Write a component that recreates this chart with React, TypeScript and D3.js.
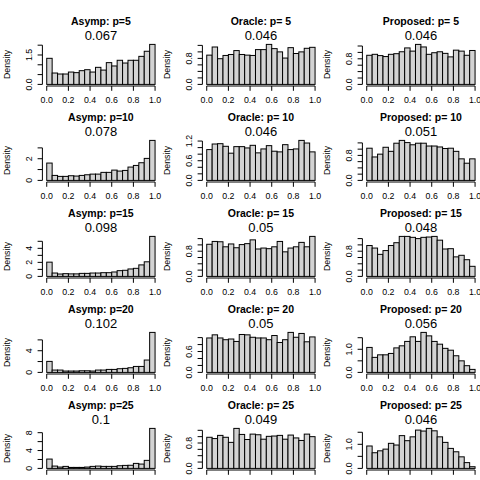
import React from "react";
import * as d3 from "d3";

// ---------- data ----------
const binEdges = [0, 0.05, 0.1, 0.15, 0.2, 0.25, 0.3, 0.35, 0.4, 0.45, 0.5, 0.55, 0.6, 0.65, 0.7, 0.75, 0.8, 0.85, 0.9, 0.95, 1];
const methods = ["Asymp", "Oracle", "Proposed"];
const dims = [5, 10, 15, 20, 25];

const asympDensity = [
  [1.33, 0.58, 0.53, 0.53, 0.63, 0.6, 0.7, 0.75, 0.63, 0.87, 0.73, 1.11, 0.94, 1.23, 1.09, 1.23, 1.23, 1.43, 1.69, 2.04],
  [1.6, 0.46, 0.37, 0.37, 0.43, 0.4, 0.46, 0.52, 0.58, 0.58, 0.74, 0.74, 0.95, 0.86, 0.92, 1.23, 1.38, 1.63, 2.03, 3.69],
  [2.03, 0.48, 0.34, 0.39, 0.36, 0.36, 0.43, 0.43, 0.48, 0.48, 0.53, 0.53, 0.63, 0.82, 0.87, 1.06, 1.15, 1.64, 2.08, 5.7],
  [2.03, 0.43, 0.43, 0.25, 0.25, 0.25, 0.3, 0.3, 0.25, 0.43, 0.43, 0.55, 0.55, 0.68, 0.74, 0.86, 1.1, 1.1, 2.28, 7.38],
  [2.09, 0.52, 0.3, 0.45, 0.22, 0.22, 0.22, 0.3, 0.45, 0.52, 0.45, 0.45, 0.45, 0.6, 0.67, 0.7, 1.12, 0.97, 1.8, 8.96],
];
const oracleDensity = [
  [0.9, 1.15, 0.79, 0.89, 0.92, 1.04, 0.92, 0.9, 0.89, 1.07, 1.07, 1.23, 1.1, 1.0, 0.81, 1.13, 0.95, 1.0, 1.11, 1.14],
  [0.94, 1.11, 1.12, 1.04, 0.83, 1.03, 1.03, 0.99, 1.07, 0.84, 0.96, 1.06, 0.89, 0.87, 1.09, 0.94, 0.96, 1.22, 1.14, 0.87],
  [1.02, 1.11, 1.1, 0.94, 1.03, 0.91, 1.01, 1.04, 1.16, 0.87, 0.9, 0.88, 0.94, 1.11, 0.78, 0.9, 0.94, 1.08, 0.94, 1.27],
  [0.99, 1.08, 0.99, 0.94, 0.96, 0.89, 1.09, 1.08, 1.01, 0.99, 0.99, 0.94, 1.06, 0.86, 0.94, 1.15, 1.01, 1.12, 0.88, 1.02],
  [0.98, 0.94, 1.04, 0.98, 0.82, 1.26, 1.07, 0.91, 1.08, 1.06, 0.92, 1.01, 1.02, 1.04, 0.92, 1.05, 0.96, 0.88, 1.08, 1.0],
];
const proposedDensity = [
  [0.91, 0.94, 0.9, 0.87, 0.94, 0.96, 1.02, 1.14, 1.04, 1.25, 1.17, 0.94, 0.99, 1.02, 0.97, 0.86, 1.07, 1.04, 0.91, 1.06],
  [1.03, 0.75, 0.84, 1.06, 0.93, 1.19, 1.28, 1.21, 1.14, 1.19, 1.19, 1.1, 1.1, 1.07, 1.02, 1.03, 0.93, 0.69, 0.55, 0.69],
  [0.98, 0.9, 0.7, 0.82, 0.98, 1.07, 1.27, 1.27, 1.24, 1.2, 1.24, 1.25, 1.27, 1.15, 0.87, 0.88, 0.62, 0.67, 0.53, 0.32],
  [1.08, 0.65, 0.76, 0.76, 0.82, 1.06, 1.15, 1.34, 1.54, 1.34, 1.73, 1.58, 1.34, 1.22, 1.04, 0.96, 0.72, 0.5, 0.29, 0.13],
  [0.93, 0.65, 0.73, 0.8, 1.04, 0.97, 1.36, 1.15, 1.31, 1.59, 1.55, 1.66, 1.56, 1.31, 1.08, 0.83, 0.69, 0.48, 0.24, 0.07],
];

const asympRate = ["0.067", "0.078", "0.098", "0.102", "0.1"];
const oracleRate = ["0.046", "0.046", "0.05", "0.05", "0.049"];
const proposedRate = ["0.046", "0.051", "0.048", "0.056", "0.046"];

const xTickLabels = ["0.0", "0.2", "0.4", "0.6", "0.8", "1.0"];
const asympYLabels = [["0.0", "1.5"], ["0", "2"], ["0", "2", "4"], ["0", "4"], ["0", "4", "8"]];
const oracleYLabels = [["0.0", "0.8"], ["0.0", "0.6", "1.2"], ["0.0", "0.8"], ["0.0", "0.6"], ["0.0", "0.8"]];
const proposedYLabels = [["0.0", "0.8"], ["0.0", "0.8"], ["0.0", "0.8"], ["0.0", "1.0"], ["0.0", "1.0"]];

const densities = [asympDensity, oracleDensity, proposedDensity];
const rates = [asympRate, oracleRate, proposedRate];
const yLabelSets = [asympYLabels, oracleYLabels, proposedYLabels];

// ---------- layout ----------
const W = 480, H = 480;
const cellW = 160, cellH = 96;
const plotL = 42.4, plotR = 159.4, plotT = 42.8, plotB = 86;
const FONT = "'Liberation Sans', Arial, Helvetica, sans-serif";
const tickLen = 4.8;

// R-style axis pretty (GEPretty)
function axisTicks(lo: number, hi: number): { ticks: number[]; unit: number } {
  const n = 5, h = 0.8, h5 = 1.7;
  const cell = (hi - lo) / n;
  const U = Math.pow(10, Math.floor(Math.log10(cell)));
  let unit = U;
  if (2 * U - cell < h * (cell - unit)) {
    unit = 2 * U;
    if (5 * U - cell < h5 * (cell - unit)) {
      unit = 5 * U;
      if (10 * U - cell < h * (cell - unit)) unit = 10 * U;
    }
  }
  const ns = Math.ceil(lo / unit - 1e-9);
  const nu = Math.floor(hi / unit + 1e-9);
  return { ticks: d3.range(ns, nu + 1).map((i) => i * unit), unit };
}

function Panel({ col, row }: { col: number; row: number }) {
  const dens = densities[col][row];
  const M = d3.max(dens) as number;
  const x = d3.scaleLinear().domain([-0.04, 1.04]).range([plotL, plotR]);
  const y = d3.scaleLinear().domain([-0.04 * M, 1.04 * M]).range([plotB, plotT]);
  const { ticks: yTicks, unit } = axisTicks(-0.04 * M, 1.04 * M);
  const dec = unit < 1 ? 1 : 0;
  const shown = yLabelSets[col][row];
  const xTicks = xTickLabels.map((s) => +s);
  const title = col === 0 ? `${methods[col]}: p=${dims[row]}` : `${methods[col]}: p= ${dims[row]}`;
  const cx = (plotL + plotR) / 2;
  const cy = (plotT + plotB) / 2;
  return (
    <g transform={`translate(${col * cellW},${row * cellH})`}>
      <text x={cx} y={25} textAnchor="middle" fontWeight="bold" fontSize={10.5} fontFamily={FONT}>
        {title}
      </text>
      <text x={cx} y={40} textAnchor="middle" fontSize={13} fontFamily={FONT}>
        {rates[col][row]}
      </text>
      {dens.map((d, i) => (
        <rect
          key={i}
          x={x(binEdges[i])}
          y={y(d)}
          width={x(binEdges[i + 1]) - x(binEdges[i])}
          height={y(0) - y(d)}
          fill="#d3d3d3"
          stroke="#000"
          strokeWidth={1}
        />
      ))}
      {/* x axis */}
      <line x1={x(0)} x2={x(1)} y1={plotB} y2={plotB} stroke="#000" strokeWidth={1} />
      {xTicks.map((t, i) => (
        <g key={i}>
          <line x1={x(t)} x2={x(t)} y1={plotB} y2={plotB + tickLen} stroke="#000" strokeWidth={1} />
          <text x={x(t)} y={103} textAnchor="middle" fontSize={8.8} fontFamily={FONT}>
            {xTickLabels[i]}
          </text>
        </g>
      ))}
      {/* y axis */}
      <line x1={plotL} x2={plotL} y1={y(yTicks[0])} y2={y(yTicks[yTicks.length - 1])} stroke="#000" strokeWidth={1} />
      {yTicks.map((t, i) => {
        const lab = t.toFixed(dec);
        return (
          <g key={i}>
            <line x1={plotL - tickLen} x2={plotL} y1={y(t)} y2={y(t)} stroke="#000" strokeWidth={1} />
            {shown.includes(lab) && (
              <text
                transform={`translate(${plotL - 10.4},${y(t)}) rotate(-90)`}
                textAnchor="middle"
                fontSize={8.8}
                fontFamily={FONT}
              >
                {lab}
              </text>
            )}
          </g>
        );
      })}
      <text transform={`translate(9.5,${cy}) rotate(-90)`} textAnchor="middle" fontSize={8.8} fontFamily={FONT}>
        Density
      </text>
    </g>
  );
}

export default function App() {
  return (
    <svg
      width={W}
      height={H}
      viewBox={`0 0 ${W} ${H}`}
      style={{ position: "absolute", left: 0, top: 0, display: "block", background: "#fff" }}
    >
      <rect x={0} y={0} width={W} height={H} fill="#fff" />
      {dims.map((_, row) =>
        methods.map((_, col) => <Panel key={`${row}-${col}`} col={col} row={row} />)
      )}
    </svg>
  );
}
